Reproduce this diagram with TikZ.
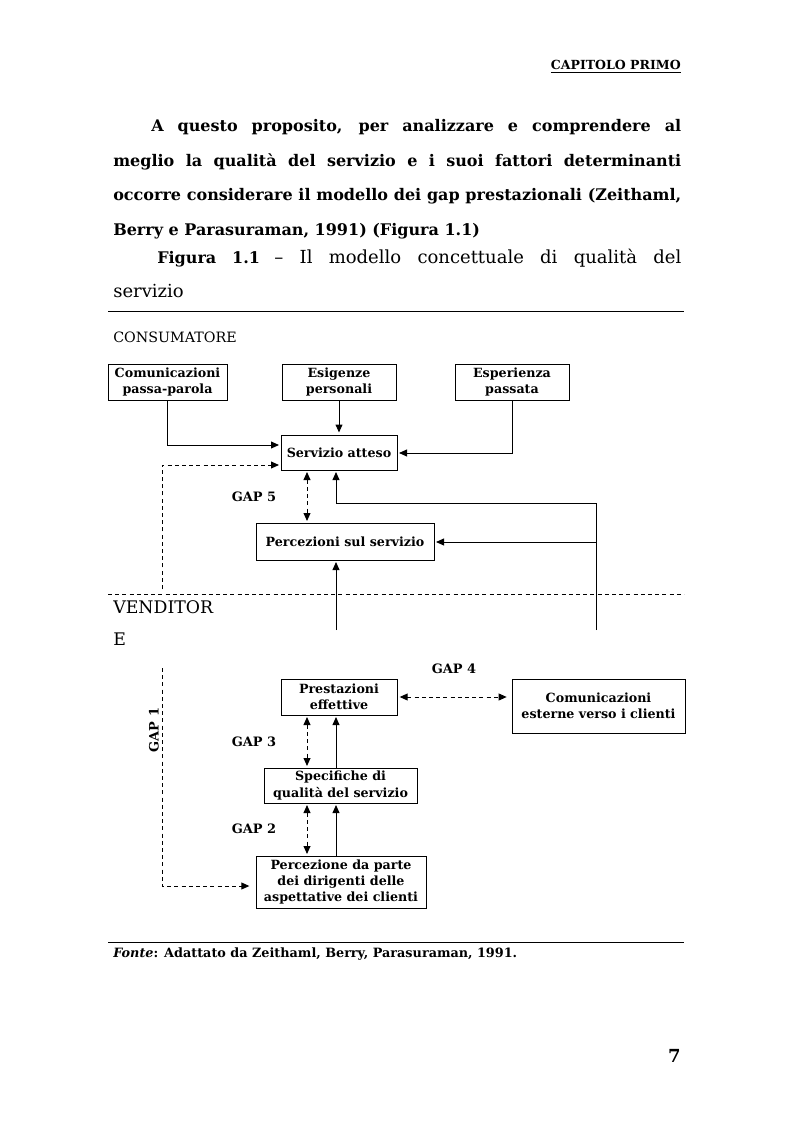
\documentclass[tikz,border=0pt]{standalone}
\usepackage{fontspec}
\setmainfont{DejaVu Serif}
\usetikzlibrary{arrows.meta}
\begin{document}
\begin{tikzpicture}[x=0.75pt,y=-0.75pt,
  box/.style={draw, line width=0.75pt, align=center, inner sep=0pt,
    font=\bfseries\fontsize{9.5}{12.2}\selectfont},
  sz/.style 2 args={minimum width={#1*0.75pt}, minimum height={#2*0.75pt}},
  ln/.style={line width=0.75pt},
  arr/.style={ln, -{Triangle[length=6pt,width=5.2pt]}, shorten >=1.5pt},
  dashln/.style={ln, dash pattern=on 3pt off 2.4pt},
  darr/.style={dashln, {Triangle[length=6pt,width=5.2pt]}-{Triangle[length=6pt,width=5.2pt]}, shorten >=1.5pt, shorten <=1.5pt},
  dsarr/.style={dashln, -{Triangle[length=6pt,width=5.2pt]}, shorten >=1.5pt},
  gap/.style={font=\bfseries\fontsize{9.7}{11}\selectfont, inner sep=0pt},
  body/.style={anchor=base west, inner sep=0pt, font=\bfseries\fontsize{12}{14}\selectfont},
  bodyr/.style={anchor=base west, inner sep=0pt, font=\fontsize{13.5}{15}\selectfont}
]
\useasboundingbox (0,0) rectangle (793,1123);

% header
\node[anchor=base east, inner sep=0pt, font=\bfseries\fontsize{9.4}{11}\selectfont] (hdr) at (681,70) {\underline{CAPITOLO PRIMO}};

% paragraph
\node[body] (p1) at (151,132) {\makebox[397.5pt][s]{A questo proposito, per analizzare e comprendere al}};
\node[body] (p2) at (113,167) {\makebox[426pt][s]{meglio la qualità del servizio e i suoi fattori determinanti}};
\node[body] (p3) at (113,201) {\makebox[426pt][s]{occorre considerare il modello dei gap prestazionali (Zeithaml,}};
\node[body] (p4) at (113,235) {Berry e Parasuraman, 1991) (Figura 1.1)};
\node[bodyr] (p5) at (157,263) {\makebox[393pt][s]{\fontsize{12}{14}\selectfont\textbf{Figura 1.1} \fontsize{13.5}{15}\selectfont – Il modello concettuale di qualità del}};
\node[bodyr] (p6) at (113,297) {servizio};

\draw[ln] (108,311) -- (684,311);
\draw[ln] (108,942) -- (684,942);

\node[anchor=base west, inner sep=0pt, font=\fontsize{10.7}{12}\selectfont] (cons) at (113,342) {CONSUMATORE};

% boxes
\node[box, sz={119}{36}] (b1) at (167.5,382) {Comunicazioni\\passa-parola};
\node[box, sz={114}{36}] (b2) at (339,382) {Esigenze\\personali};
\node[box, sz={114}{36}] (b3) at (512,382) {Esperienza\\passata};
\node[box, sz={116}{35}] (sa) at (339,452.5) {Servizio atteso};
\node[box, sz={178}{37}] (ps) at (345,541.5) {Percezioni sul servizio};
\node[box, sz={116}{36}] (pe) at (339,697) {Prestazioni\\effettive};
\node[box, sz={173}{54}] (ce) at (598.5,706) {Comunicazioni\\esterne verso i clienti};
\node[box, sz={153}{35}] (sq) at (340.5,785.5) {Specifiche di\\qualità del servizio};
\node[box, sz={170}{52}, font=\bfseries\fontsize{9.5}{11.8}\selectfont] (pd) at (341,882) {Percezione da parte\\dei dirigenti delle\\aspettative dei clienti};

% attachment coordinates
\coordinate (saL1) at (281,445);
\coordinate (saL2) at (281,465);
\coordinate (saR) at (397,453);
\coordinate (saB1) at (307,470);
\coordinate (saB2) at (336,470);
\coordinate (psT1) at (307,523);
\coordinate (psR) at (434,542);
\coordinate (psB) at (336,560);
\coordinate (psIn) at (336,630);
\coordinate (fbBot) at (596,630);
\coordinate (fbMid) at (596,542);
\coordinate (fbTurn) at (336,503);
\coordinate (g1top) at (162,589);
\coordinate (g1low) at (162,668);
\coordinate (g1corner) at (162,886);
\coordinate (pdL) at (256,886);
\coordinate (peR) at (397,697);
\coordinate (ceL) at (512,697);
\coordinate (peB1) at (307,715);
\coordinate (peB2) at (336,715);
\coordinate (sqT1) at (307,768);
\coordinate (sqT2) at (336,768);
\coordinate (sqB1) at (307,803);
\coordinate (sqB2) at (336,803);
\coordinate (pdT1) at (307,856);
\coordinate (pdT2) at (336,856);

% consumer side connectors
\draw[arr] (b2) -- (sa);
\draw[arr] (b1.south) |- (saL1);
\draw[arr] (b3.south) |- (saR);
\draw[dsarr] (g1top) |- (saL2);
\draw[darr] (saB1) -- (psT1);
\draw[arr] (fbBot) -- (fbTurn -| fbBot) -- (fbTurn) -- (saB2);
\draw[arr] (fbMid) -- (psR);
\draw[arr] (psIn) -- (psB);

% divider
\draw[dashln] (108,594) -- (684,594);
\node[bodyr, font=\fontsize{13}{15}\selectfont] (vend1) at (113,613) {VENDITOR};
\node[bodyr, font=\fontsize{13}{15}\selectfont] (vend2) at (113,645) {E};

% seller side connectors
\draw[dsarr, shorten >=5pt] (g1low) -- (g1corner) -- (pdL);
\draw[darr, shorten <=2pt, shorten >=4pt] (peR) -- (ceL);
\draw[darr] (peB1) -- (sqT1);
\draw[arr] (sqT2) -- (peB2);
\draw[darr] (sqB1) -- (pdT1);
\draw[arr] (pdT2) -- (sqB2);

% gap labels
\node[gap] (gap5) at (254,497) {GAP 5};
\node[gap] (gap4) at (454,669) {GAP 4};
\node[gap] (gap3) at (254,742) {GAP 3};
\node[gap] (gap2) at (254,829) {GAP 2};
\node[gap, rotate=90] (gap1) at (154,730) {GAP 1};

% source
\node[anchor=base west, inner sep=0pt, font=\bfseries\fontsize{9.6}{11}\selectfont] (src) at (113,957) {\textit{Fonte}: Adattato da Zeithaml, Berry, Parasuraman, 1991.};

\node[anchor=base east, inner sep=0pt, font=\bfseries\fontsize{13.5}{15}\selectfont] (pg) at (681,1062) {7};
\end{tikzpicture}
\end{document}
